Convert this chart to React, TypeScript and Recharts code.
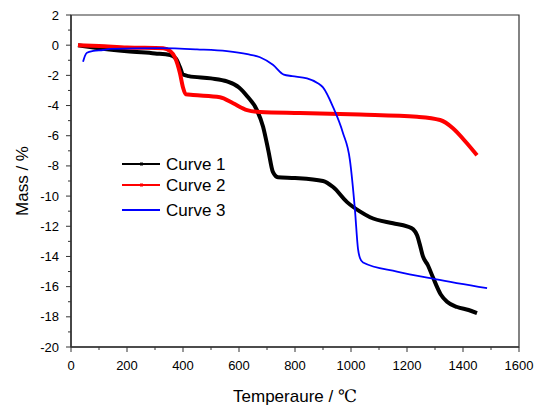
import { LineChart, Line, XAxis, YAxis, Legend, ReferenceArea, Label } from 'recharts'

// TGA curves
const curve1Temp = [25, 100, 200, 300, 354, 375, 390, 400, 420, 500, 557, 600, 630, 664, 686, 705, 721, 739, 800, 900, 936, 986, 1030, 1068, 1150, 1200, 1222, 1236, 1247, 1257, 1275, 1293, 1320, 1343, 1379, 1420, 1450]
const curve1Mass = [0, -0.2, -0.4, -0.55, -0.65, -0.9, -1.5, -1.95, -2.05, -2.2, -2.4, -2.8, -3.4, -4.3, -5.4, -7.0, -8.4, -8.75, -8.8, -9.0, -9.4, -10.4, -11.0, -11.4, -11.8, -12.0, -12.2, -12.6, -13.3, -14.0, -14.6, -15.4, -16.5, -17.0, -17.35, -17.55, -17.75]

const curve2Temp = [25, 100, 200, 329, 355, 371, 389, 400, 410, 436, 532, 579, 629, 675, 818, 1032, 1236, 1318, 1364, 1414, 1450]
const curve2Mass = [0, -0.05, -0.15, -0.2, -0.4, -0.8, -1.85, -2.8, -3.25, -3.3, -3.45, -3.85, -4.3, -4.43, -4.5, -4.6, -4.75, -4.96, -5.5, -6.5, -7.3]

const curve3Temp = [43, 50, 57, 80, 114, 139, 318, 450, 557, 630, 675, 721, 760, 790, 843, 880, 900, 936, 971, 996, 1014, 1025, 1032, 1043, 1164, 1300, 1486]
const curve3Mass = [-1.1, -0.7, -0.5, -0.38, -0.32, -0.25, -0.2, -0.28, -0.4, -0.6, -0.8, -1.3, -1.95, -2.05, -2.2, -2.5, -2.8, -4.1, -5.8, -7.6, -10.9, -13.5, -14.1, -14.4, -15.0, -15.5, -16.1]

const seriesNames = ['Curve 1', 'Curve 2', 'Curve 3']
const seriesColors = ['#000000', '#ff0000', '#0000ff']
const seriesWidths = [4, 4, 1.8]

const xTicks = [0, 100, 200, 300, 400, 500, 600, 700, 800, 900, 1000, 1100, 1200, 1300, 1400, 1500, 1600]
const yTicks = [-20, -19, -18, -17, -16, -15, -14, -13, -12, -11, -10, -9, -8, -7, -6, -5, -4, -3, -2, -1, 0, 1, 2]

const zip = (t: number[], m: number[]) => t.map((temp, i) => ({ temp, mass: m[i] }))
const series = [zip(curve1Temp, curve1Mass), zip(curve2Temp, curve2Mass), zip(curve3Temp, curve3Mass)]

const FONT = '"Liberation Sans", Arial, sans-serif'
const AXIS = '#333'

function XTick(props: any) {
  const { x, y, payload } = props
  const major = payload.value % 200 === 0
  const axisY = y - 14
  return (
    <g>
      <line x1={x} x2={x} y1={axisY} y2={axisY + (major ? 5 : 3)} stroke={AXIS} strokeWidth={1} />
      {major && (
        <text x={x} y={y} dy="0.71em" textAnchor="middle" fontSize={13} fontFamily={FONT} fill="#000">
          {payload.value}
        </text>
      )}
    </g>
  )
}

function YTick(props: any) {
  const { x, y, payload } = props
  const major = payload.value % 2 === 0
  const axisX = x + 12
  return (
    <g>
      <line x1={axisX} x2={axisX - (major ? 5 : 3)} y1={y} y2={y} stroke={AXIS} strokeWidth={1} />
      {major && (
        <text x={x} y={y} dy="0.35em" textAnchor="end" fontSize={13} fontFamily={FONT} fill="#000">
          {payload.value}
        </text>
      )}
    </g>
  )
}

function LegendBox() {
  const rows = [164, 185, 210]
  return (
    <svg width={130} height={80} style={{ overflow: 'visible' }}>
      {seriesNames.map((name, i) => (
        <g key={name} transform={`translate(0, ${rows[i] - 150})`}>
          <line x1={7} x2={45} y1={0} y2={0} stroke={seriesColors[i]} strokeWidth={2} />
          {i < 2 && <rect x={25} y={-1.5} width={3} height={3} fill={seriesColors[i]} />}
          <text x={51} y={0} dy="0.35em" fontSize={17} fontFamily={FONT} fill="#000">
            {name}
          </text>
        </g>
      ))}
    </svg>
  )
}

export default function App() {
  return (
    <div style={{ position: 'absolute', left: 0, top: 0, background: '#fff' }}>
      <LineChart width={543} height={405} margin={{ top: 15, right: 24, bottom: 28, left: 0 }}>
        <XAxis
          dataKey="temp"
          type="number"
          domain={[0, 1600]}
          ticks={xTicks}
          interval={0}
          height={30}
          tickSize={4}
          tickMargin={10}
          tickLine={false}
          tick={<XTick />}
          axisLine={{ stroke: AXIS, strokeWidth: 1.5 }}
        >
          <Label
            content={(p: any) => {
              const vb = p.viewBox
              return (
                <text x={vb.x + vb.width / 2} y={vb.y + 55} textAnchor="middle" fontSize={17} fontFamily={FONT} fill="#000">
                  Temperaure / <tspan fontFamily='"Liberation Serif", "DejaVu Serif", serif'>℃</tspan>
                </text>
              )
            }}
          />
        </XAxis>
        <YAxis
          dataKey="mass"
          type="number"
          domain={[-20, 2]}
          ticks={yTicks}
          interval={0}
          width={71}
          tickSize={4}
          tickMargin={8}
          tickLine={false}
          tick={<YTick />}
          axisLine={{ stroke: AXIS, strokeWidth: 1.5 }}
        >
          <Label
            content={(p: any) => {
              const vb = p.viewBox
              const cx = vb.x + 22
              const cy = vb.y + vb.height / 2
              return (
                <text x={cx} y={cy} dy="0.35em" textAnchor="middle" fontSize={17} fontFamily={FONT} fill="#000" transform={`rotate(-90, ${cx}, ${cy})`}>
                  Mass / %
                </text>
              )
            }}
          />
        </YAxis>
        <ReferenceArea x1={0} x2={1600} y1={-20} y2={2} fill="none" stroke={AXIS} strokeWidth={1.2} />
        {series.map((data, i) => (
          <Line
            key={seriesNames[i]}
            data={data}
            dataKey="mass"
            name={seriesNames[i]}
            type="monotone"
            stroke={seriesColors[i]}
            strokeWidth={seriesWidths[i]}
            dot={false}
            isAnimationActive={false}
          />
        ))}
        <Legend
          layout="vertical"
          align="center"
          verticalAlign="middle"
          content={() => <LegendBox />}
          wrapperStyle={{ position: 'absolute', left: 115, top: 150, width: 130, height: 80 }}
        />
      </LineChart>
    </div>
  )
}
